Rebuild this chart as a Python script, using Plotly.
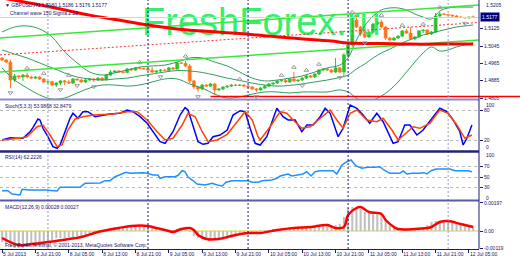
import plotly.graph_objects as go

# ---------------- data ----------------
symbol = "GBPUSD,H1"
bar_idx = list(range(114))
date_tick_bars = [0, 8, 16, 24, 32, 40, 48, 56, 64, 72, 80, 88, 96, 104, 112]
date_tick_labels = ["5 Jul 2013", "5 Jul 21:00", "8 Jul 05:00", "8 Jul 13:00", "8 Jul 21:00",
                    "9 Jul 05:00", "9 Jul 13:00", "9 Jul 21:00", "10 Jul 05:00", "10 Jul 13:00",
                    "10 Jul 21:00", "11 Jul 05:00", "11 Jul 13:00", "11 Jul 21:00", "12 Jul 05:00"]
sep_bars_light = [11, 107]
sep_bars_dark = [35, 59, 83]

open_ = [1.4990, 1.4981, 1.4971, 1.4888, 1.4907, 1.4902, 1.4911, 1.4902, 1.4897, 1.4902,
         1.4893, 1.4879, 1.4880, 1.4865, 1.4874, 1.4884, 1.4879, 1.4874, 1.4893, 1.4888,
         1.4879, 1.4888, 1.4893, 1.4888, 1.4897, 1.4888, 1.4911, 1.4925, 1.4930, 1.4925,
         1.4923, 1.4939, 1.4934, 1.4944, 1.4941, 1.4939, 1.4934, 1.4925, 1.4930, 1.4934,
         1.4932, 1.4944, 1.4939, 1.4967, 1.4965, 1.4953, 1.4884, 1.4856, 1.4847, 1.4865,
         1.4860, 1.4870, 1.4842, 1.4847, 1.4856, 1.4860, 1.4865, 1.4863, 1.4865, 1.4860,
         1.4856, 1.4847, 1.4842, 1.4851, 1.4860, 1.4870, 1.4874, 1.4884, 1.4886, 1.4879,
         1.4893, 1.4884, 1.4888, 1.4897, 1.4907, 1.4902, 1.4916, 1.4934, 1.4939, 1.4934,
         1.4925, 1.4944, 1.4925, 1.5004, 1.5050, 1.5165, 1.5133, 1.5101, 1.5087, 1.5110,
         1.5147, 1.5156, 1.5133, 1.5082, 1.5073, 1.5082, 1.5091, 1.5115, 1.5105, 1.5078,
         1.5087, 1.5115, 1.5119, 1.5101, 1.5110, 1.5184, 1.5193, 1.5191, 1.5188, 1.5184,
         1.5179, 1.5177, 1.5175, 1.5180]
high = [1.4994, 1.4985, 1.4981, 1.4916, 1.4911, 1.4916, 1.4921, 1.4907, 1.4907, 1.4907,
        1.4897, 1.4884, 1.4884, 1.4879, 1.4888, 1.4888, 1.4888, 1.4897, 1.4895, 1.4893,
        1.4893, 1.4897, 1.4897, 1.4902, 1.4902, 1.4916, 1.4934, 1.4934, 1.4934, 1.4932,
        1.4944, 1.4944, 1.4948, 1.4948, 1.4946, 1.4944, 1.4948, 1.4934, 1.4939, 1.4939,
        1.4948, 1.4948, 1.4971, 1.4971, 1.4976, 1.4962, 1.4888, 1.4860, 1.4870, 1.4870,
        1.4874, 1.4874, 1.4851, 1.4860, 1.4865, 1.4870, 1.4870, 1.4870, 1.4870, 1.4865,
        1.4860, 1.4851, 1.4856, 1.4865, 1.4874, 1.4879, 1.4888, 1.4888, 1.4893, 1.4897,
        1.4925, 1.4893, 1.4902, 1.4911, 1.4911, 1.4921, 1.4939, 1.4944, 1.4944, 1.4939,
        1.4990, 1.4948, 1.5013, 1.5059, 1.5179, 1.5184, 1.5138, 1.5110, 1.5115, 1.5152,
        1.5161, 1.5165, 1.5138, 1.5087, 1.5087, 1.5096, 1.5119, 1.5124, 1.5133, 1.5091,
        1.5119, 1.5124, 1.5124, 1.5115, 1.5198, 1.5202, 1.5198, 1.5193, 1.5191, 1.5188,
        1.5184, 1.5179, 1.5182, 1.5186]
low = [1.4976, 1.4967, 1.4851, 1.4879, 1.4893, 1.4884, 1.4897, 1.4893, 1.4893, 1.4888,
       1.4874, 1.4870, 1.4860, 1.4856, 1.4865, 1.4865, 1.4870, 1.4870, 1.4884, 1.4874,
       1.4874, 1.4884, 1.4879, 1.4884, 1.4884, 1.4886, 1.4907, 1.4921, 1.4921, 1.4918,
       1.4921, 1.4930, 1.4932, 1.4939, 1.4934, 1.4930, 1.4921, 1.4921, 1.4925, 1.4930,
       1.4930, 1.4934, 1.4934, 1.4962, 1.4948, 1.4874, 1.4847, 1.4833, 1.4842, 1.4856,
       1.4856, 1.4819, 1.4838, 1.4842, 1.4851, 1.4856, 1.4860, 1.4860, 1.4856, 1.4851,
       1.4842, 1.4833, 1.4838, 1.4847, 1.4856, 1.4865, 1.4870, 1.4879, 1.4874, 1.4874,
       1.4879, 1.4879, 1.4884, 1.4893, 1.4897, 1.4897, 1.4911, 1.4930, 1.4930, 1.4921,
       1.4921, 1.4921, 1.4907, 1.4999, 1.5041, 1.5128, 1.5091, 1.5082, 1.5082, 1.5105,
       1.5142, 1.5128, 1.5073, 1.5068, 1.5068, 1.5078, 1.5087, 1.5101, 1.5073, 1.5073,
       1.5082, 1.5105, 1.5096, 1.5096, 1.5105, 1.5179, 1.5188, 1.5184, 1.5179, 1.5177,
       1.5175, 1.5172, 1.5172, 1.5176]
close = [1.4981, 1.4971, 1.4888, 1.4907, 1.4902, 1.4911, 1.4902, 1.4897, 1.4902, 1.4893,
         1.4879, 1.4880, 1.4865, 1.4874, 1.4884, 1.4879, 1.4874, 1.4893, 1.4888, 1.4879,
         1.4888, 1.4893, 1.4888, 1.4897, 1.4888, 1.4911, 1.4925, 1.4930, 1.4925, 1.4923,
         1.4939, 1.4934, 1.4944, 1.4941, 1.4939, 1.4934, 1.4925, 1.4930, 1.4934, 1.4932,
         1.4944, 1.4939, 1.4967, 1.4965, 1.4953, 1.4884, 1.4856, 1.4847, 1.4865, 1.4860,
         1.4870, 1.4842, 1.4847, 1.4856, 1.4860, 1.4865, 1.4863, 1.4865, 1.4860, 1.4856,
         1.4847, 1.4842, 1.4851, 1.4860, 1.4870, 1.4874, 1.4884, 1.4886, 1.4879, 1.4893,
         1.4884, 1.4888, 1.4897, 1.4907, 1.4902, 1.4916, 1.4934, 1.4939, 1.4934, 1.4925,
         1.4944, 1.4925, 1.5004, 1.5050, 1.5165, 1.5133, 1.5101, 1.5087, 1.5110, 1.5147,
         1.5156, 1.5133, 1.5082, 1.5073, 1.5082, 1.5091, 1.5115, 1.5105, 1.5078, 1.5087,
         1.5115, 1.5119, 1.5101, 1.5110, 1.5184, 1.5193, 1.5191, 1.5188, 1.5184, 1.5179,
         1.5177, 1.5175, 1.5179, 1.5177]

up_fractal_bars = [6, 10, 16, 33, 44, 57, 67, 70, 73, 76, 84, 91, 96, 101, 105]
down_fractal_bars = [2, 14, 18, 22, 38, 47, 61, 72, 81, 87, 111]

bb_bars = [0, 3, 6, 9, 12, 15, 18, 21, 24, 27, 30, 33, 36, 39, 42, 45, 48, 51, 54, 57,
           60, 63, 66, 69, 72, 75, 78, 81, 83, 85, 87, 89, 91, 93, 95, 97, 99, 101, 103, 105,
           107, 109, 111, 113]
bb_upper = [1.5110, 1.5133, 1.5138, 1.5124, 1.5087, 1.5018, 1.4967, 1.4925, 1.4911, 1.4921,
            1.4934, 1.4948, 1.4953, 1.4957, 1.4971, 1.4990, 1.4990, 1.4971, 1.4953, 1.4925,
            1.4897, 1.4884, 1.4888, 1.4897, 1.4907, 1.4925, 1.4944, 1.4957, 1.4990, 1.5073,
            1.5138, 1.5184, 1.5212, 1.5221, 1.5221, 1.5212, 1.5193, 1.5179, 1.5170, 1.5207,
            1.5221, 1.5225, 1.5225, 1.5225]
bb_mid = [1.5027, 1.5008, 1.4990, 1.4967, 1.4944, 1.4921, 1.4902, 1.4893, 1.4888, 1.4893,
          1.4897, 1.4907, 1.4916, 1.4925, 1.4932, 1.4930, 1.4923, 1.4911, 1.4897, 1.4886,
          1.4874, 1.4865, 1.4860, 1.4863, 1.4870, 1.4879, 1.4888, 1.4900, 1.4911, 1.4939,
          1.4962, 1.4990, 1.5013, 1.5031, 1.5050, 1.5068, 1.5082, 1.5096, 1.5105, 1.5115,
          1.5124, 1.5133, 1.5138, 1.5142]
bb_lower = [1.4944, 1.4888, 1.4851, 1.4819, 1.4800, 1.4805, 1.4828, 1.4851, 1.4865, 1.4865,
            1.4860, 1.4865, 1.4879, 1.4893, 1.4893, 1.4870, 1.4851, 1.4823, 1.4805, 1.4810,
            1.4823, 1.4833, 1.4833, 1.4828, 1.4833, 1.4833, 1.4833, 1.4842, 1.4833, 1.4805,
            1.4787, 1.4796, 1.4814, 1.4842, 1.4879, 1.4925, 1.4971, 1.5013, 1.5041, 1.5022,
            1.5027, 1.5041, 1.5050, 1.5059]

ma_bars = [0, 8, 14, 21, 28, 35, 43, 50, 57, 64, 71, 79, 83, 91, 98, 105, 113]
ma_vals = [1.5267, 1.5239, 1.5216, 1.5188, 1.5165, 1.5142, 1.5121, 1.5112, 1.5103, 1.5091,
           1.5080, 1.5068, 1.5059, 1.5057, 1.5054, 1.5054, 1.5054]

chan_bars = [-0.5, 114.4]
chan_upper = [1.5082, 1.5235]
chan_mid = [1.5004, 1.5154]
chan_lower = [1.4925, 1.5073]
hline_price = 1.4812
hline_bars = [50, 114.4]

main_tick_vals = [1.4805, 1.4885, 1.4965, 1.5045, 1.5125]
main_top_label = "1.5205"

stoch_k_bars = [0, 1.9, 3.6, 5.0, 6.7, 7.4, 8.6, 9.1, 9.8, 11.0, 12.2, 13.2, 13.9, 15.1, 16.3,
                17.0, 18.2, 19.4, 20.6, 22.3, 23.5, 25.9, 28.3, 30.0, 31.4, 33.1, 34.8, 36.2,
                37.9, 39.1, 41.0, 42.7, 43.9, 44.6, 45.8, 47.0, 48.2, 49.4, 50.6, 52.3, 54.0,
                55.4, 57.1, 58.3, 59.5, 60.7, 61.9, 63.5, 65.9, 67.4, 68.6, 70.3, 71.9, 73.1,
                74.6, 76.3, 77.5, 78.7, 80.6, 81.8, 83.5, 85.1, 86.6, 88.2, 89.0, 89.9, 91.4,
                92.6, 93.8, 95.0, 96.6, 97.8, 99.5, 101.0, 103.1, 105.0, 106.7, 108.2, 109.8,
                110.6, 111.5, 112.7]
stoch_k = [21.4, 26, 24.8, 24.8, 38, 46, 63.4, 61.4, 44.8, 28, 8, 4.8, 11.4, 38, 64.8, 74.8,
           64.8, 78, 78, 68, 70, 73.4, 74.8, 81.4, 78, 68, 54.8, 38, 18, 14.8, 38, 71.4, 86,
           81.4, 51.4, 18, 12.8, 14.8, 28, 31.4, 41.4, 71.4, 80, 78, 44.8, 14.8, 11.4, 28,
           84.8, 68, 61.4, 61.4, 38, 51.4, 51.4, 68, 84.8, 74.8, 28, 44.8, 91.4, 84.8, 71.4,
           54.8, 64.8, 74.8, 58, 38, 14.8, 18, 51.4, 51.4, 31.4, 41.4, 64.8, 84.8, 78, 61.4,
           38, 11.4, 24.8, 51.4]
stoch_d_bars = [0, 4.3, 6.0, 8.4, 9.8, 11.5, 13.2, 14.4, 15.8, 17.5, 19.4, 21.8, 26.6, 30.0,
                32.4, 34.8, 37.2, 39.1, 41.0, 43.2, 44.6, 46.3, 48.0, 49.4, 51.6, 54.0, 56.4,
                58.3, 60.0, 61.4, 61.9, 64.3, 66.7, 68.3, 69.8, 71.9, 73.9, 76.3, 78.7, 80.3,
                81.8, 83.5, 85.1, 87.5, 89.9, 91.4, 93.5, 95.0, 97.1, 98.6, 100.2, 102.6,
                105.0, 107.0, 109.1, 111.0, 112.7]
stoch_d = [21.4, 24.8, 28, 48, 51.4, 31.4, 8, 11.4, 41.4, 63.4, 68, 71.4, 73.4, 78, 78, 61.4,
           38, 21.4, 24.8, 51.4, 74.8, 68, 38, 18, 21.4, 32.8, 58, 78, 61.4, 28, 21.4, 48, 78,
           74.8, 61.4, 44.8, 48, 64.8, 81.4, 61.4, 44.8, 74.8, 81.4, 61.4, 58, 64.8, 41.4,
           21.4, 38, 48, 44.8, 54.8, 81.4, 74.8, 51.4, 24.8, 31.4]
stoch_levels = [80, 20]

rsi_bars = [0, 1.4, 2.4, 4.3, 4.8, 6.7, 10.3, 12.0, 13.2, 13.9, 18.7, 19.9, 23.5, 24.7, 25.9,
            27.1, 28.8, 29.7, 30.7, 32.4, 33.8, 34.8, 36.2, 37.4, 37.9, 39.1, 41.5, 42.2, 43.2,
            43.9, 44.6, 45.6, 46.8, 48.7, 50.4, 51.6, 52.8, 53.7, 55.2, 57.1, 59.0, 60.0, 61.4,
            62.4, 64.7, 65.9, 66.7, 67.6, 68.6, 69.5, 70.7, 72.2, 73.1, 74.1, 75.1, 76.3, 79.4,
            80.3, 81.5, 82.7, 83.7, 84.9, 86.3, 87.8, 89.4, 90.6, 91.6, 93.0, 95.4, 96.2, 97.1,
            98.3, 100.2, 101.2, 101.9, 102.9, 104.1, 107.4, 108.6, 111.8, 112.7]
rsi_vals = [23.7, 23.7, 17.3, 15.4, 26.3, 25, 25, 23, 23, 30.2, 30.2, 37.9, 38.5, 42.9, 42.9,
            50.6, 55.8, 59, 57.1, 58.3, 58.3, 57.1, 53.8, 53.8, 47.5, 50.6, 50.6, 53.3, 62.1,
            60, 50, 44.2, 36.5, 34.6, 38, 34.6, 32.7, 39.8, 42.9, 42.9, 42.9, 39.8, 39.8, 42.9,
            44.2, 47.5, 51.9, 53.8, 55.8, 51.9, 53.8, 55.8, 60.2, 51.9, 60.2, 62.1, 62.1, 55.8,
            73, 79.4, 82.7, 71.2, 66.7, 68.7, 68.7, 69.8, 63.5, 57.1, 57.1, 61.5, 55.8, 57.1,
            57.1, 58.3, 55.8, 62.1, 65.4, 65.4, 62.1, 62.1, 60.2]
rsi_levels = [70, 50, 30]

macd_hist = [-0.00077, -0.00091, -0.00112, -0.00119, -0.00119, -0.00119, -0.00112, -0.00112, -0.00105, -0.00105,
             -0.00098, -0.00084, -0.00063, -0.00049, -0.00049, -0.00049, -0.00042, -0.00042, -0.00035, -0.00035,
             -0.00028, -0.00021, -0.00014, -0.00007, 0.00007, 0.00014, 0.00021, 0.00028, 0.00028, 0.00035,
             0.00035, 0.00035, 0.00035, 0.00035, 0.00035, 0.00028, 0.00028, 0.00021, 0.00014, 0.00007,
             0.00007, 0.00007, 0.00014, 0.00014, 0.00014, -0.00007, -0.00035, -0.00049, -0.00056, -0.00063,
             -0.00063, -0.00063, -0.00063, -0.00063, -0.00056, -0.00049, -0.00035, -0.00028, -0.00021, -0.00014,
             -0.00007, -0.00007, 0.00002, 0.00007, 0.00007, 0.00014, 0.00014, 0.00014, 0.00021, 0.00021,
             0.00021, 0.00021, 0.00028, 0.00028, 0.00021, 0.00028, 0.00035, 0.00035, 0.00035, 0.00035,
             0.00042, 0.00049, 0.00098, 0.00161, 0.00168, 0.00168, 0.00154, 0.00133, 0.00126, 0.00126,
             0.00119, 0.00112, 0.00077, 0.00035, 0.00021, 0.00014, 0.00014, 0.00007, 0.00007, 0.00007,
             0.00014, 0.00021, 0.00042, 0.00063, 0.0007, 0.0007, 0.00063, 0.00063, 0.00056, 0.00049,
             0.00042, 0.00035, 0.00028, 0.00028]
sig_bars = [0, 4, 7, 11, 16, 19, 23, 28, 31, 35, 37, 40, 41, 43, 45, 46, 47, 49, 52, 55, 59, 62,
            66, 70, 74, 78, 80, 82, 83, 85, 86, 88, 91, 92, 94, 95, 99, 102, 103, 105, 107, 110, 113]
sig_vals = [-0.00049, -0.00098, -0.00091, -0.00077, -0.00056, -0.00042, -0.00007, 0.00021, 0.00035, 0.00035,
            0.00021, 0.0, -0.00007, 0.00014, 0.00021, 0.00007, -0.00028, -0.00056, -0.00056, -0.00035,
            -0.00014, -0.00014, 0.00007, 0.00021, 0.00028, 0.00042, 0.00021, 0.00028, 0.00112, 0.00161,
            0.00168, 0.00133, 0.00119, 0.00077, 0.00028, 0.00014, 0.00014, 0.00021, 0.00028, 0.00063,
            0.0007, 0.00049, 0.00028]
macd_tick_vals = [0.00197, 0.0, -0.00119]
macd_tick_text = ["0.00197", "0.00", "-0.00119"]

title_line2 = "Channel wave 150 Sigma 2.22"
stoch_label = "Stoch(5,3,3) 53.9868 32.8479"
rsi_label = "RSI(14) 62.2226"
macd_label = "MACD(12,26,9) 0.00028 0.00027"
footer = "FreshForex Terminal, \u00a9 2001-2013, MetaQuotes Software Corp."
watermark = "FreshForex.ru"

# ---------------- style ----------------
PH = 249.0
def py(p):
    return 1 - p / PH

NAVY = "#1c1c78"
TXT = "#14146a"
FONT = "Liberation Sans"
SMALL = dict(family=FONT, size=5, color=TXT)
BB_COL = "#2f9e5c"
CH_COL = "#3ae83a"
UP_COL = "#2fbf2f"
DN_COL = "#ff7418"
frac_off = 0.0022

fig = go.Figure()

# watermark behind everything (kept fully inside the chart)
fig.add_trace(go.Scatter(x=[62.2], y=[1.5138], mode="text", text=[watermark],
                         textfont=dict(family=FONT, size=38, color="#35ef6c"),
                         textposition="middle center", cliponaxis=False,
                         hoverinfo="skip", showlegend=False))

# candles: bodies as bars, wicks as line segments
up = [i for i in bar_idx if close[i] >= open_[i]]
dn = [i for i in bar_idx if close[i] < open_[i]]
for idx, col in ((up, UP_COL), (dn, DN_COL)):
    fig.add_trace(go.Bar(x=idx, y=[close[i] - open_[i] for i in idx], base=[open_[i] for i in idx],
                         width=0.72, marker=dict(color=col, line=dict(color=col, width=0.6)),
                         hoverinfo="skip", showlegend=False))
    wx, wy = [], []
    for i in idx:
        wx += [i, i, None]
        wy += [low[i], high[i], None]
    fig.add_trace(go.Scatter(x=wx, y=wy, mode="lines", line=dict(color=col, width=1),
                             hoverinfo="skip", showlegend=False))

for vals in (bb_upper, bb_mid, bb_lower):
    fig.add_trace(go.Scatter(x=bb_bars, y=vals, mode="lines", line=dict(color=BB_COL, width=1, shape="spline"),
                             hoverinfo="skip", showlegend=False))
for vals in (chan_upper, chan_lower):
    fig.add_trace(go.Scatter(x=chan_bars, y=vals, mode="lines", line=dict(color=CH_COL, width=1.5),
                             hoverinfo="skip", showlegend=False))
fig.add_trace(go.Scatter(x=chan_bars, y=chan_mid, mode="lines",
                         line=dict(color="#ff3030", width=1, dash="2px,2px"),
                         hoverinfo="skip", showlegend=False))
fig.add_trace(go.Scatter(x=ma_bars, y=ma_vals, mode="lines", line=dict(color="#ff0000", width=3, shape="spline"),
                         hoverinfo="skip", showlegend=False))
fig.add_trace(go.Scatter(x=hline_bars, y=[hline_price, hline_price], mode="lines",
                         line=dict(color="#ff0000", width=1.5), hoverinfo="skip", showlegend=False))

fig.add_trace(go.Scatter(x=up_fractal_bars, y=[high[i] + frac_off for i in up_fractal_bars], mode="markers",
                         marker=dict(symbol="triangle-up-open", size=4, color="#9a9a9a", line=dict(width=1)),
                         hoverinfo="skip", showlegend=False))
fig.add_trace(go.Scatter(x=down_fractal_bars, y=[low[i] - frac_off for i in down_fractal_bars], mode="markers",
                         marker=dict(symbol="triangle-down-open", size=4, color="#9a9a9a", line=dict(width=1)),
                         hoverinfo="skip", showlegend=False))

# stochastic
fig.add_trace(go.Scatter(x=stoch_k_bars, y=stoch_k, yaxis="y2", mode="lines",
                         line=dict(color="#0000ff", width=1.5), hoverinfo="skip", showlegend=False))
fig.add_trace(go.Scatter(x=stoch_d_bars, y=stoch_d, yaxis="y2", mode="lines",
                         line=dict(color="#ff4500", width=1.5), hoverinfo="skip", showlegend=False))
# RSI
fig.add_trace(go.Scatter(x=rsi_bars, y=rsi_vals, yaxis="y3", mode="lines",
                         line=dict(color="#1e90ff", width=1.5), hoverinfo="skip", showlegend=False))
# MACD
fig.add_trace(go.Bar(x=bar_idx, y=macd_hist, yaxis="y4", width=0.5, marker=dict(color="#c0c0c0", line=dict(width=0)),
                     hoverinfo="skip", showlegend=False))
fig.add_trace(go.Scatter(x=sig_bars, y=sig_vals, yaxis="y4", mode="lines",
                         line=dict(color="#ff0000", width=2.5, shape="spline"), hoverinfo="skip", showlegend=False))

yax_common = dict(side="right", anchor="x", showline=False, ticks="outside", ticklen=3,
                  tickcolor=NAVY, tickfont=SMALL, fixedrange=True)

fig.update_layout(
    width=520, height=260, margin=dict(l=0, r=41, t=0, b=11),
    paper_bgcolor="white", plot_bgcolor="white", showlegend=False, barmode="overlay",
    xaxis=dict(range=[-0.5, 114.4], anchor="y4", showgrid=False, zeroline=False,
               showline=True, linecolor=NAVY, linewidth=1, tickmode="array",
               tickvals=date_tick_bars, ticktext=date_tick_labels, tickangle=0,
               ticks="outside", ticklen=3, tickcolor=NAVY, ticklabelposition="outside right",
               tickfont=SMALL, fixedrange=True),
    yaxis=dict(domain=[py(99), 1], range=[1.48004, 1.52578], showgrid=False, zeroline=False,
               tickmode="array", tickvals=main_tick_vals,
               ticktext=[f"{v:.4f}" for v in main_tick_vals], **yax_common),
    yaxis2=dict(domain=[py(150.7), py(100.7)], range=[0, 100], showgrid=True, gridcolor="#b8b8b8",
                griddash="dot", gridwidth=1, zeroline=False, tickmode="array", tickvals=stoch_levels,
                ticktext=[str(v) for v in stoch_levels], **yax_common),
    yaxis3=dict(domain=[py(203), py(151)], range=[0, 100], showgrid=True, gridcolor="#b8b8b8",
                griddash="dot", gridwidth=1, zeroline=False, tickmode="array", tickvals=rsi_levels,
                ticktext=[str(v) for v in rsi_levels], **yax_common),
    yaxis4=dict(domain=[0, py(201)], range=[-0.00126, 0.0021], showgrid=False,
                tickmode="array", tickvals=macd_tick_vals, ticktext=macd_tick_text,
                zeroline=True, zerolinecolor="#eee79a", zerolinewidth=1.5, **yax_common),
)

shapes = []
for b in sep_bars_light:
    shapes.append(dict(type="line", xref="x", yref="paper", x0=b, x1=b, y0=0, y1=1,
                       line=dict(color="#9a9ac8", width=1, dash="2px,2px")))
for b in sep_bars_dark:
    shapes.append(dict(type="line", xref="x", yref="paper", x0=b, x1=b, y0=0, y1=1,
                       line=dict(color=NAVY, width=1, dash="2px,2px")))
shapes.append(dict(type="line", xref="x", yref="y", x0=-0.5, x1=114.4, y0=close[-1], y1=close[-1],
                   line=dict(color="#d4d4d4", width=1)))
shapes.append(dict(type="line", xref="paper", yref="y", x0=1, x1=1.09, y0=hline_price, y1=hline_price,
                   line=dict(color="#ff0000", width=1.5)))
for p, col, w in ((99.5, "#8c8cc8", 2), (151.5, "#23237a", 2.5), (200.5, "#5a5aa8", 2)):
    shapes.append(dict(type="line", xref="paper", yref="paper", x0=0, x1=1, y0=py(p), y1=py(p),
                       line=dict(color=col, width=w)))
shapes.append(dict(type="line", xref="paper", yref="paper", x0=1, x1=1, y0=0, y1=1,
                   line=dict(color=NAVY, width=1)))
fig.update_layout(shapes=shapes)

ann = []
def label(text, xpix, ypix):
    ann.append(dict(text=text, xref="paper", yref="paper", x=xpix / 479.0, y=py(ypix),
                    xanchor="left", yanchor="middle", showarrow=False, font=SMALL))

label("\u25bc " + f"{symbol} {open_[-1]:.4f} {high[-1]:.4f} {low[-1]:.4f} {close[-1]:.4f}", 3, 5)
label(title_line2, 8, 13)
label(stoch_label, 3, 106)
label(rsi_label, 3, 157)
label(macd_label, 3, 207)
label(footer, 3, 245)
for text, ypix in ((main_top_label, 5), ("100", 105), ("0", 147), ("100", 155), ("0", 198)):
    ann.append(dict(text=text, xref="paper", yref="paper", x=1, xshift=5, y=py(ypix),
                    xanchor="left", yanchor="middle", showarrow=False, font=SMALL))
ann.append(dict(text=f"{close[-1]:.4f}", xref="paper", yref="y", x=1, xshift=1, y=close[-1],
                xanchor="left", yanchor="middle", showarrow=False, bgcolor="#000080",
                font=dict(family=FONT, size=5, color="white"), borderpad=1))
fig.update_layout(annotations=ann)

fig.write_html("out.html")
